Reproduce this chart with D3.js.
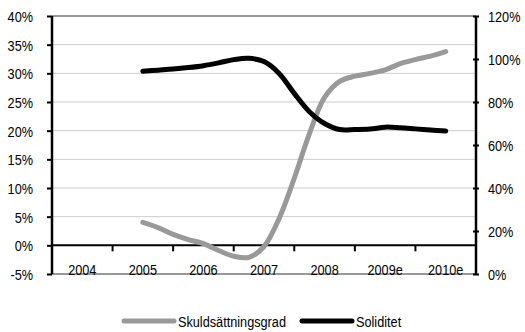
<!DOCTYPE html>
<html>
<head>
<meta charset="utf-8">
<script src="https://cdn.jsdelivr.net/npm/d3@7"></script>
<style>
  html, body { margin: 0; padding: 0; background: #fff; }
  svg { display: block; }
  svg text { font-family: "Liberation Sans", Arial, sans-serif; font-size: 15.5px; fill: #000; }
</style>
</head>
<body>
<svg id="chart" width="525" height="332"></svg>
<script>
// Year categories on the x axis
const categories = ["2004", "2005", "2006", "2007", "2008", "2009e", "2010e"];
// Quarterly observation times (year + fraction; .5 = middle of the year)
const times = d3.range(21).map(i => 2005.5 + i * 0.25);
// Skuldsättningsgrad (left axis, %)
const skuld = [4.0, 3.1, 1.9, 1.0, 0.3, -0.9, -1.9, -2.1, -0.2, 4.7, 11.7, 19.5, 25.8, 28.6, 29.5, 30.0, 30.6, 31.7, 32.4, 33.0, 33.8];
// Soliditet (right axis, %)
const solid = [94.3, 94.8, 95.3, 96.0, 96.9, 98.2, 99.7, 100.3, 98.8, 93.3, 84.0, 75.5, 70.0, 67.2, 67.2, 67.4, 68.3, 68.0, 67.5, 67.0, 66.5];
// Tick values
const leftTicks = [-5, 0, 5, 10, 15, 20, 25, 30, 35, 40];
const rightTicks = [0, 20, 40, 60, 80, 100, 120];
const seriesNames = ["Skuldsättningsgrad", "Soliditet"];

const svg = d3.select("#chart");
const L = 52, R = 476, T = 16, B = 274;
const NARROW = 0.82; // horizontal squeeze for a condensed label face

// Move a text's x/y into a transform so it can be condensed horizontally
function condense(sel) {
  sel.each(function () {
    const t = d3.select(this);
    const x = +t.attr("x") || 0, y = +t.attr("y") || 0;
    t.attr("x", 0).attr("y", 0)
     .attr("transform", `translate(${x},${y}) scale(${NARROW},1)`);
  });
}

const xBand = d3.scaleBand().domain(categories).range([L, R]);
const xTime = d3.scaleLinear().domain([2004, 2011]).range([L, R]);
const yL = d3.scaleLinear().domain([-5, 40]).range([B, T]);
const yR = d3.scaleLinear().domain([0, 120]).range([B, T]);

// Horizontal gridlines
svg.append("g").selectAll("line")
  .data(leftTicks.filter(v => v > -5 && v < 40 && v !== 0))
  .join("line")
  .attr("x1", L).attr("x2", R)
  .attr("y1", d => yL(d)).attr("y2", d => yL(d))
  .attr("stroke", "#cccccc").attr("stroke-width", 1);

// Plot area border (top and bottom)
[40, -5].forEach(v => {
  svg.append("line")
    .attr("x1", L).attr("x2", R)
    .attr("y1", yL(v)).attr("y2", yL(v))
    .attr("stroke", "#999999").attr("stroke-width", 2);
});

// X axis category labels
svg.append("g").selectAll("text")
  .data(categories)
  .join("text")
  .attr("x", d => xBand(d) + xBand.bandwidth() / 2)
  .attr("y", 275)
  .attr("text-anchor", "middle")
  .text(d => d)
  .call(condense);

// X axis line at zero with ticks between categories
svg.append("line")
  .attr("x1", L).attr("x2", R)
  .attr("y1", yL(0)).attr("y2", yL(0))
  .attr("stroke", "#000").attr("stroke-width", 2);
svg.append("g").selectAll("line")
  .data(categories.slice(1))
  .join("line")
  .attr("x1", d => xBand(d)).attr("x2", d => xBand(d))
  .attr("y1", yL(0)).attr("y2", yL(0) + 6)
  .attr("stroke", "#000").attr("stroke-width", 2);

// Left axis
const leftAxis = d3.axisLeft(yL).tickValues(leftTicks).tickFormat(d => d + "%").tickSize(5).tickPadding(14);
const gl = svg.append("g").attr("transform", `translate(${L},0)`).call(leftAxis);
gl.attr("font-family", null).attr("font-size", null);
gl.select(".domain").attr("stroke", "#000").attr("stroke-width", 2.5).attr("d", `M0,${T}V${B}`);
gl.selectAll(".tick line").attr("stroke", "#000").attr("stroke-width", 2);
gl.selectAll(".tick text").attr("fill", "#000").attr("dy", null).attr("y", 5.5).call(condense);

// Right axis
const rightAxis = d3.axisRight(yR).tickValues(rightTicks).tickFormat(d => d + "%").tickSize(3).tickPadding(9);
const gr = svg.append("g").attr("transform", `translate(${R},0)`).call(rightAxis);
gr.attr("font-family", null).attr("font-size", null);
gr.select(".domain").attr("stroke", "#000").attr("stroke-width", 2.5).attr("d", `M0,${T}V${B}`);
gr.selectAll(".tick line").attr("stroke", "#000").attr("stroke-width", 2).attr("x1", -3);
gr.selectAll(".tick text").attr("fill", "#000").attr("dy", null).attr("y", 5.5).call(condense);

// Series lines
const lineL = d3.line().x((d, i) => xTime(times[i])).y(d => yL(d)).curve(d3.curveCatmullRom.alpha(0.5));
const lineR = d3.line().x((d, i) => xTime(times[i])).y(d => yR(d)).curve(d3.curveCatmullRom.alpha(0.5));

svg.append("path").datum(skuld).attr("d", lineL)
  .attr("fill", "none").attr("stroke", "#999999").attr("stroke-width", 5)
  .attr("stroke-linecap", "round").attr("stroke-linejoin", "round");
svg.append("path").datum(solid).attr("d", lineR)
  .attr("fill", "none").attr("stroke", "#000000").attr("stroke-width", 5)
  .attr("stroke-linecap", "round").attr("stroke-linejoin", "round");

// Legend
const legend = [
  { name: seriesNames[0], color: "#999999", x: 122 },
  { name: seriesNames[1], color: "#000000", x: 300 }
];
const lg = svg.append("g");
legend.forEach(item => {
  lg.append("line")
    .attr("x1", item.x + 2).attr("x2", item.x + 52)
    .attr("y1", 321).attr("y2", 321)
    .attr("stroke", item.color).attr("stroke-width", 5).attr("stroke-linecap", "round");
  lg.append("text")
    .attr("x", item.x + 56).attr("y", 327)
    .text(item.name)
    .call(condense);
});
</script>
</body>
</html>
